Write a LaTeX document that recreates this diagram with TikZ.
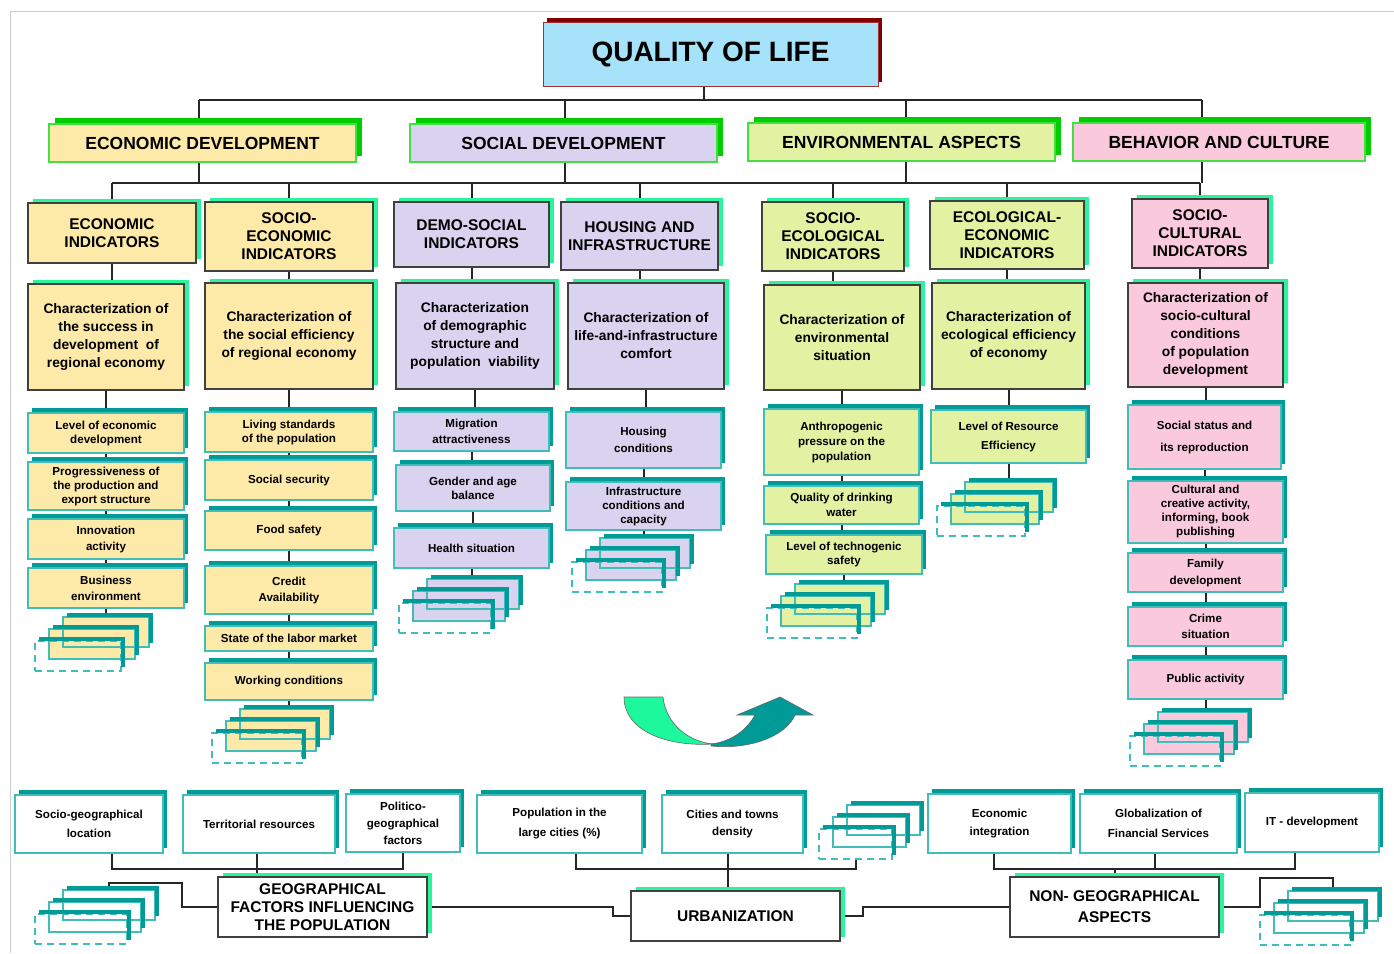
\documentclass[tikz,border=0pt]{standalone}
\usepackage{fontspec}
\setmainfont{Liberation Sans}
\usetikzlibrary{shadows,backgrounds}

\definecolor{qlfill}{HTML}{A6E3FA}
\definecolor{qlline}{HTML}{A03232}
\definecolor{qlshade}{HTML}{800000}
\definecolor{ecofill}{HTML}{FDE9A8}
\definecolor{socfill}{HTML}{D9D3F0}
\definecolor{envfill}{HTML}{E3F1A2}
\definecolor{culfill}{HTML}{FAC9DC}
\definecolor{hdshade}{HTML}{00CC00}
\definecolor{hdline}{HTML}{40E040}
\definecolor{indshade}{HTML}{2BF59C}
\definecolor{itshade}{HTML}{009B96}
\definecolor{itline}{HTML}{40BDB8}
\definecolor{arrlight}{HTML}{1DF89C}

\begin{document}
\begin{tikzpicture}[x=1pt, y=-1pt,
    boxbase/.style={anchor=north west, inner sep=0pt, outer sep=0pt, align=center},
    wh/.style args={#1/#2}{minimum width=#1pt, minimum height=#2pt},
    ls/.style={font=\fontsize{11.6}{#1}\selectfont\bfseries},
    quality/.style={boxbase, fill=qlfill, draw=qlline, line width=1pt,
      drop shadow={shadow xshift=4pt, shadow yshift=4pt, fill=qlshade, opacity=1},
      font=\fontsize{28}{32}\selectfont\bfseries},
    header/.style={boxbase, draw=hdline, line width=1.2pt, minimum height=38pt,
      drop shadow={shadow xshift=6pt, shadow yshift=6pt, fill=hdshade, opacity=1},
      font=\fontsize{17.5}{20}\selectfont\bfseries},
    indic/.style={boxbase, draw=black!75, line width=1.3pt,
      drop shadow={shadow xshift=5pt, shadow yshift=4pt, fill=indshade, opacity=1},
      font=\fontsize{15.5}{18}\selectfont\bfseries},
    charbox/.style={indic, font=\fontsize{13.8}{18}\selectfont\bfseries},
    item/.style={boxbase, draw=itline, line width=1.2pt,
      drop shadow={shadow xshift=4pt, shadow yshift=5pt, fill=itshade, opacity=1},
      font=\fontsize{11.6}{14}\selectfont\bfseries},
    factor/.style={item, fill=white},
    group/.style={indic, fill=white},
    conn/.style={draw=black!85, line width=2pt},
    stackbox/.style={anchor=north west, inner sep=0pt, outer sep=0pt, draw=itline,
      line width=1.2pt, minimum height=30pt},
    stackshade/.style={draw=itshade, line width=3.5pt, line join=miter},
    arrline/.style={draw=black!60, line width=0.6pt},
    pics/more/.style args={#1/#2}{code={
      \path[fill=#1] (28,-24) rectangle ++(#2,30) (14,-12) rectangle ++(#2,30);
      \node[stackbox, minimum width=#2pt] (-a) at (28,-24) {};
      \node[stackbox, minimum width=#2pt] (-b) at (14,-12) {};
      \node[stackbox, minimum width=#2pt, dash pattern=on 7pt off 5pt] (-c) at (0,0) {};
      \foreach \ox/\oy in {28/-24,14/-12,0/0}
        \draw[stackshade] (\ox+4,\oy-2) -- (\ox+#2+2,\oy-2) -- (\ox+#2+2,\oy+26);
    }}]

  \useasboundingbox (0,0) rectangle (1394,953);
  \draw[black!20, line width=0.8pt] (10,953) -- (10,11) -- (1394,11);

  \node[quality, wh=335/64] (ql) at (543,22) {QUALITY OF LIFE};

  \node[header, fill=ecofill, minimum width=307pt] (ed) at (49,124) {ECONOMIC DEVELOPMENT};
  \node[header, fill=socfill, minimum width=307pt] (sd) at (410,124) {SOCIAL DEVELOPMENT};
  \node[header, fill=envfill, minimum width=307pt] (ea) at (748,123) {ENVIRONMENTAL ASPECTS};
  \node[header, fill=culfill, minimum width=292pt] (bc) at (1073,123) {BEHAVIOR AND CULTURE};

  \node[indic, fill=ecofill, wh=168/60] (ei) at (28,203) {ECONOMIC\\INDICATORS};
  \node[indic, fill=ecofill, wh=168/69] (sei) at (205,202) {SOCIO-\\ECONOMIC\\INDICATORS};
  \node[indic, fill=socfill, wh=155/65] (dsi) at (394,202) {DEMO-SOCIAL\\INDICATORS};
  \node[indic, fill=socfill, wh=157/68] (hi) at (561,202) {HOUSING AND\\INFRASTRUCTURE};
  \node[indic, fill=envfill, wh=142/69] (sgi) at (762,202) {SOCIO-\\ECOLOGICAL\\INDICATORS};
  \node[indic, fill=envfill, wh=154/68] (eei) at (930,201) {ECOLOGICAL-\\ECONOMIC\\INDICATORS};
  \node[indic, fill=culfill, wh=136/69] (sci) at (1132,199) {SOCIO-\\CULTURAL\\INDICATORS};

  \node[charbox, fill=ecofill, wh=156/106] (c1) at (28,284) {Characterization of\\the success in\\development~~of\\regional economy};
  \node[charbox, fill=ecofill, wh=168/106] (c2) at (205,283) {Characterization of\\the social efficiency\\of regional economy};
  \node[charbox, fill=socfill, wh=158/106] (c3) at (396,283) {Characterization\\of demographic\\structure and\\population~~viability};
  \node[charbox, fill=socfill, wh=156/106] (c4) at (568,283) {Characterization of\\life-and-infrastructure\\comfort};
  \node[charbox, fill=envfill, wh=156/105] (c5) at (764,285) {Characterization of\\environmental\\situation};
  \node[charbox, fill=envfill, wh=153/106] (c6) at (932,283) {Characterization of\\ecological efficiency\\of economy};
  \node[charbox, fill=culfill, wh=155/104] (c7) at (1128,283) {Characterization of\\socio-cultural\\conditions\\of population\\development};

  \node[item, fill=ecofill, wh=156/40] (i11) at (28,413) {Level of economic\\development};
  \node[item, fill=ecofill, wh=156/48] (i12) at (28,462) {Progressiveness of\\the production and\\export structure};
  \node[item, fill=ecofill, wh=156/40, ls=16] (i13) at (28,519) {Innovation\\activity};
  \node[item, fill=ecofill, wh=156/40, ls=16] (i14) at (28,568) {Business\\environment};

  \node[item, fill=ecofill, wh=168/40] (i21) at (205,412) {Living standards\\of the population};
  \node[item, fill=ecofill, wh=168/40] (i22) at (205,460) {Social security};
  \node[item, fill=ecofill, wh=168/39] (i23) at (205,511) {Food safety};
  \node[item, fill=ecofill, wh=168/48, ls=16] (i24) at (205,566) {Credit\\Availability};
  \node[item, fill=ecofill, wh=168/25] (i25) at (205,626) {State of the labor market};
  \node[item, fill=ecofill, wh=168/37] (i26) at (205,663) {Working conditions};

  \node[item, fill=socfill, wh=155/39, ls=16] (i31) at (394,412) {Migration\\attractiveness};
  \node[item, fill=socfill, wh=154/46] (i32) at (396,465) {Gender and age\\balance};
  \node[item, fill=socfill, wh=155/40] (i33) at (394,528) {Health situation};

  \node[item, fill=socfill, wh=155/56, ls=17] (i41) at (566,412) {Housing\\conditions};
  \node[item, fill=socfill, wh=155/48] (i42) at (566,482) {Infrastructure\\conditions and\\capacity};

  \node[item, fill=envfill, wh=155/66, ls=15] (i51) at (764,409) {Anthropogenic\\pressure on the\\population};
  \node[item, fill=envfill, wh=155/38, ls=15] (i52) at (764,486) {Quality of drinking\\water};
  \node[item, fill=envfill, wh=156/39] (i53) at (766,535) {Level of technogenic\\safety};

  \node[item, fill=envfill, wh=155/53, ls=19] (i61) at (931,410) {Level of Resource\\Efficiency};

  \node[item, fill=culfill, wh=153/64, ls=22] (i71) at (1128,405) {Social status and\\its reproduction};
  \node[item, fill=culfill, wh=155/62] (i72) at (1128,481) {Cultural and\\creative activity,\\informing, book\\publishing};
  \node[item, fill=culfill, wh=155/39, ls=17] (i73) at (1128,553) {Family\\development};
  \node[item, fill=culfill, wh=155/39, ls=16] (i74) at (1128,607) {Crime\\situation};
  \node[item, fill=culfill, wh=155/39] (i75) at (1128,660) {Public activity};

  \pic (s1) at (35,641) {more=ecofill/86};
  \pic (s2) at (212,733) {more=ecofill/90};
  \pic (s3) at (399,603) {more=socfill/92};
  \pic (s4) at (572,562) {more=socfill/90};
  \pic (s5) at (767,608) {more=envfill/90};
  \pic (s6) at (937,506) {more=envfill/88};
  \pic (s7) at (1130,736) {more=culfill/90};

  \node[factor, wh=148/58, ls=19] (b1) at (15,795) {Socio-geographical\\location};
  \node[factor, wh=152/58] (b2) at (183,795) {Territorial resources};
  \node[factor, wh=114/58, ls=17] (b3) at (346,794) {Politico-\\geographical\\factors};
  \node[factor, wh=165/58, ls=20] (b4) at (477,795) {Population in the\\large cities (\%)};
  \node[factor, wh=141/58, ls=17] (b5) at (662,795) {Cities and towns\\density};
  \node[factor, wh=143/59, ls=18] (b6) at (928,794) {Economic\\integration};
  \node[factor, wh=157/59, ls=20] (b7) at (1080,794) {Globalization of\\Financial Services};
  \node[factor, wh=134/59] (b8) at (1245,793) {IT - development};

  \node[group, wh=209/60] (geo) at (218,877) {GEOGRAPHICAL\\FACTORS INFLUENCING\\THE POPULATION};
  \node[group, wh=209/50] (urb) at (631,891) {URBANIZATION};
  \node[group, wh=209/60, font=\fontsize{15.5}{21}\selectfont\bfseries] (ngeo) at (1010,877) {NON- GEOGRAPHICAL\\ASPECTS};

  \pic (sg) at (35,914) {more=white/92};
  \pic (su) at (819,829) {more=white/73};
  \pic (sn) at (1260,915) {more=white/90};

  \draw[arrline, fill=arrlight] (624,697) -- (663,697) .. controls (666,725) and (690,742) .. (713,744)
    .. controls (665,747) and (624,730) .. (624,697) -- cycle;
  \draw[arrline, fill=itshade] (711,746) .. controls (750,750) and (786,736) .. (795,715) -- (813,715)
    -- (780,697) -- (737,715) -- (755,715) .. controls (745,733) and (728,742) .. (711,744) -- cycle;

  \begin{scope}[on background layer]
    \coordinate (busA) at (0,100);
    \coordinate (busB) at (0,183);
    \coordinate (edx) at ([xshift=-4pt]ed.north);
    \coordinate (sdx) at ([xshift=1pt]sd.north);
    \coordinate (eax) at ([xshift=4pt]ea.north);
    \coordinate (bcx) at ([xshift=-17pt]bc.north);
    \draw[conn] ([xshift=-7pt]ql.south) -- ++(0,14);
    \draw[conn] (edx |- busA) -- (bcx |- busA);
    \foreach \n in {edx,sdx,eax,bcx}
      \draw[conn] (\n |- busA) -- (\n |- busB);
    \draw[conn] (ei.north |- busB) -- (sci.north |- busB);
    \foreach \n in {ei,sei,dsi,hi,sgi,eei,sci}
      \draw[conn] (\n.north) -- (\n.north |- busB);
    \foreach \a/\b in {ei/c1,c1/i11,i11/i12,i12/i13,i13/i14,i14/s1-a,
        sei/c2,c2/i21,i21/i22,i22/i23,i23/i24,i24/i25,i25/i26,i26/s2-a,
        dsi/c3,c3/i31,i31/i32,i32/i33,i33/s3-a,
        hi/c4,c4/i41,i41/i42,i42/s4-a,
        sgi/c5,c5/i51,i51/i52,i52/i53,i53/s5-a,
        eei/c6,c6/i61,i61/s6-a,
        sci/c7,c7/i71,i71/i72,i72/i73,i73/i74,i74/i75,i75/s7-a}
      \draw[conn] (\a.south) -- (\a.south |- \b.north);

    \draw[conn] ([xshift=23pt]b1.south) -- ++(0,16) -| (b3.south);
    \draw[conn] ([xshift=-2pt]b2.south) -- ++(0,24);
    \draw[conn] (geo.west) -- ++(-36,0) -- ++(0,-24) -| (sg-a.north);
    \draw[conn] (geo.east) -- ++(186,0) |- (urb.west);
    \draw[conn] ([xshift=16pt]b4.south) -- ++(0,16) -| (su-c.south);
    \draw[conn] ([xshift=-5pt]b5.south) -- ++(0,38);
    \draw[conn] (urb.east) -- ++(23,0) |- (ngeo.west);
    \draw[conn] ([xshift=-6pt]b6.south) -- ++(0,16) -| ([xshift=-17pt]b8.south);
    \draw[conn] ([xshift=-4pt]b7.south) -- ++(0,16);
    \draw[conn] (ngeo.north) -- ++(0,-8);
    \draw[conn] (ngeo.east) -- ++(41,0) -- ++(0,-29) -| (sn-a.north);
  \end{scope}
\end{tikzpicture}
\end{document}
